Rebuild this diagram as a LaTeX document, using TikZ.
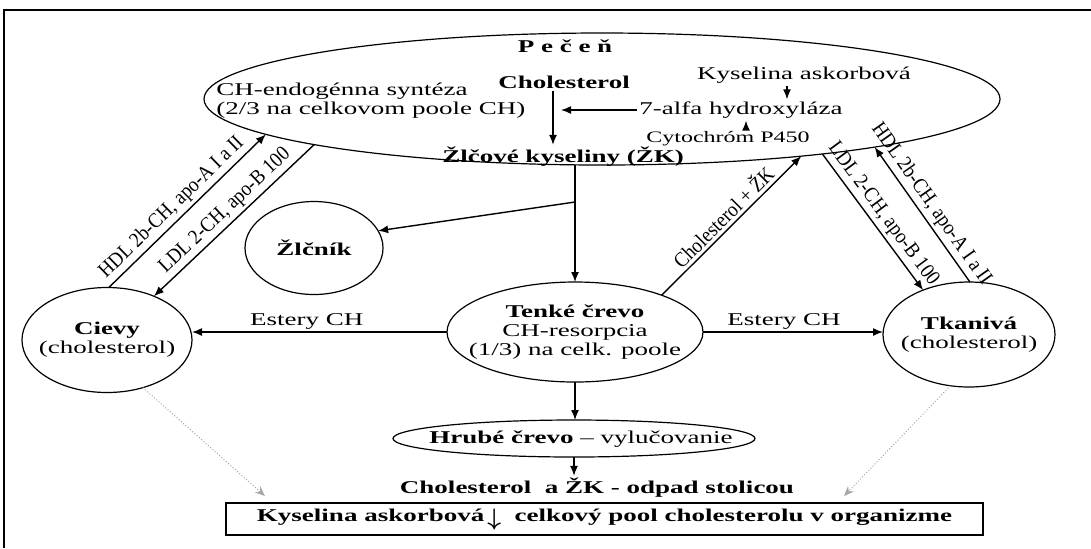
\documentclass[tikz,border=0pt]{standalone}
\usepackage{amsmath}
\usepackage{fontspec}
\setmainfont{Liberation Serif}[FakeStretch=1.5]
\newfontfamily\slimfont{Liberation Serif}[FakeStretch=0.9]
\usetikzlibrary{arrows.meta, shapes.geometric, positioning}

\begin{document}
\begin{tikzpicture}[x=0.5pt, y=-0.5pt,
    every node/.style={font=\fontsize{9}{9.5}\selectfont, inner sep=1pt},
    organ/.style={draw, ellipse, line width=0.6pt, inner sep=0pt, outer sep=0pt},
    flow/.style={-{Latex[length=5pt, width=4pt]}, line width=0.7pt},
    fade/.style={-{Stealth[length=5pt, width=4pt]}, draw=gray!70, line width=0.5pt, densely dotted},
    tag/.style={font=\slimfont\fontsize{10.5}{11}\selectfont, sloped, above, inner sep=1.5pt}]
    \useasboundingbox (0,0) rectangle (1091,548);
    % Frame -- only top and left edge
    \draw[line width=1pt] (4,548) -- (4,10) -- (1091,10);

    % Liver
    \node[organ, minimum width=398pt, minimum height=66pt] (liver) at (602,99) {};
    \node[font=\bfseries\fontsize{9}{9.5}\selectfont] (livername) at (565,46) {P e č e ň};
    \node[align=left, anchor=west] (endo) at (214,101) {CH-endogénna syntéza\\(2/3 na celkovom poole CH)};
    \node[font=\bfseries\fontsize{9}{9.5}\selectfont] (chol) at (564,82) {Cholesterol};
    \node[font=\bfseries\fontsize{9}{9.5}\selectfont] (zk) at (563,157) {Žlčové kyseliny (ŽK)};
    \node (kys) at (804,75) {Kyselina askorbová};
    \node (alfa) at (741,110) {7-alfa hydroxyláza};
    \node[font=\fontsize{8}{9}\selectfont] (cyt) at (728,139) {Cytochróm P450};
    \draw[flow] ([xshift=-5.5pt]chol.south) -- ([xshift=-5.5pt]chol.south |- zk.north);
    \draw[flow] (alfa.west) -- ([xshift=-1.5pt]chol.south |- alfa.west);
    \draw[flow] ([xshift=-8.5pt]kys.south) -- ([xshift=-8.5pt]kys.south |- alfa.north);
    \draw[flow] ([xshift=9pt]cyt.north) -- ([xshift=9pt]cyt.north |- alfa.south);

    % Organs
    \node[organ, minimum width=69pt, minimum height=46.5pt] (zlcnik) at (314,248) {};
    \node[font=\bfseries\fontsize{9}{9.5}\selectfont] (zlcniktxt) at (zlcnik) {Žlčník};
    \node[organ, minimum width=85pt, minimum height=52.5pt] (cievy) at (107,340) {};
    \node[align=center] (cievytxt) at (107,340) {\textbf{Cievy}\\(cholesterol)};
    \node[organ, minimum width=86pt, minimum height=52.5pt] (tkaniva) at (969,334.5) {};
    \node[align=center] (tkanivatxt) at (969,335) {\textbf{Tkanivá}\\(cholesterol)};
    \node[organ, minimum width=128pt, minimum height=50pt] (tenke) at (575,332) {};
    \node[align=center] (tenketxt) at (575,332) {\textbf{Tenké črevo}\\CH-resorpcia\\(1/3) na celk. poole};
    \node[organ, minimum width=181pt, minimum height=18.5pt] (hrube) at (574,438.5) {};
    \node (hrubetxt) at (581,439) {\textbf{Hrubé črevo} -- vylučovanie};
    \node[font=\bfseries\fontsize{9}{9.5}\selectfont] (odpad) at (597,488) {Cholesterol~ a ŽK - odpad stolicou};
    \node[draw, line width=0.6pt, minimum width=378.5pt, minimum height=16pt, font=\bfseries\fontsize{9}{9.5}\selectfont] (pool) at (604.5,519) {Kyselina askorbová\,\raisebox{-2pt}{\fontsize{13}{13}\selectfont$\boldsymbol{\downarrow}$}\ \ celkový pool cholesterolu v organizme};
    \coordinate (poolL) at (265,496);
    \coordinate (poolR) at (844,496);
    \coordinate (zkbranch) at (575,202);

    % Bile flow
    \draw[flow] (tenke.north |- liver.south) -- (tenke.north);
    \draw[flow] (zkbranch) -- (zlcnik.15);
    \draw[flow] (tenke.23) -- node[tag] {Cholesterol + ŽK} (liver.344);

    % Lipoproteins
    \draw[flow] (cievy.88) -- node[tag, pos=0.46] {HDL 2b-CH, apo-A I a II} (liver.186);
    \draw[flow] (liver.189) -- node[tag] {LDL 2-CH, apo-B 100} (cievy.43);
    \draw[flow] (liver.346) -- node[tag] {LDL 2-CH, apo-B 100} (tkaniva.136);
    \draw[flow] (tkaniva.89) -- node[tag, pos=0.52] {HDL 2b-CH, apo-A I a II} (liver.350);

    % Esters
    \draw[flow] (tenke.west) -- node[above, pos=0.55] {Estery CH} (tenke.west -| cievy.east);
    \draw[flow] (tenke.east) -- node[above, pos=0.45] {Estery CH} (tenke.east -| tkaniva.west);

    % Excretion
    \draw[flow] (tenke.south) -- (tenke.south |- hrube.north);
    \draw[flow] (hrube.south) -- (hrube.south |- odpad.north);
    \draw[fade] (cievy.307) -- (poolL);
    \draw[fade] (tkaniva.250) -- (poolR);
\end{tikzpicture}
\end{document}
